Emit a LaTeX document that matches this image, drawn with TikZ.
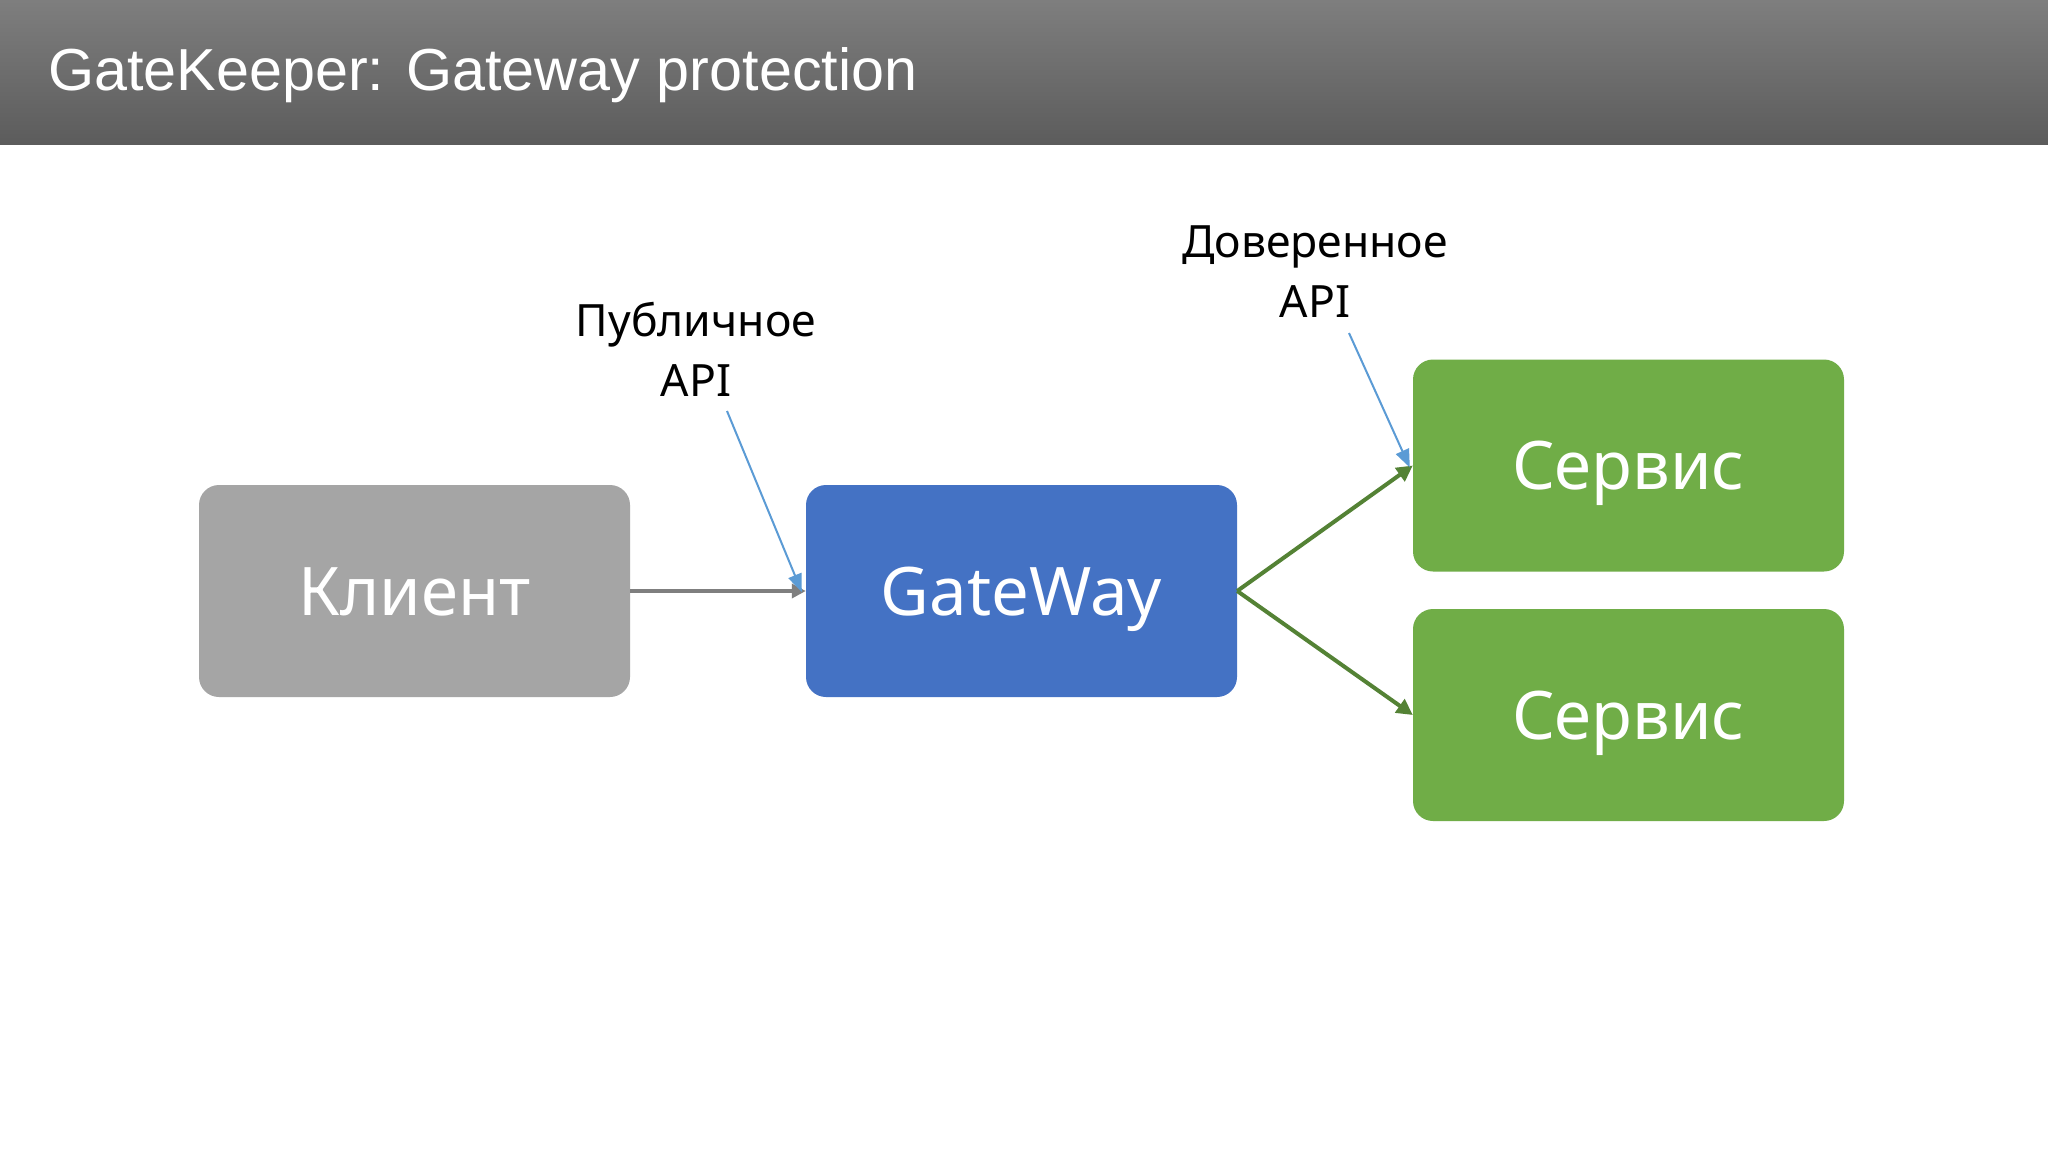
\documentclass[tikz,border=0pt]{standalone}
\usepackage{fontspec}
\setmainfont{Noto Sans}
\newfontfamily\titlefont{Liberation Sans}
\usetikzlibrary{arrows.meta}
\definecolor{hdrtop}{HTML}{7E7E7E}
\definecolor{hdrbot}{HTML}{5C5C5C}
\definecolor{clientc}{HTML}{A5A5A5}
\definecolor{gatec}{HTML}{4472C4}
\definecolor{servc}{HTML}{70AD47}
\definecolor{grayarr}{HTML}{7F7F7F}
\definecolor{greenarr}{HTML}{548235}
\definecolor{bluearr}{HTML}{5B9BD5}
\tikzset{
  box/.style={rounded corners=20pt, minimum width=431pt, minimum height=212pt, inner sep=0pt,
    text=white, font=\fontsize{67}{80}\selectfont, text height=48pt, text depth=0pt},
  lbl/.style={align=center, font=\fontsize{44.5}{60}\selectfont, text=black, inner sep=0pt},
  grayline/.style={draw=grayarr, line width=3.5pt, -{Triangle[length=14pt,width=14pt]}},
  greenline/.style={draw=greenarr, line width=4pt, -{Triangle[length=16pt,width=16pt]}},
  blueline/.style={draw=bluearr, line width=2pt, -{Triangle[length=18pt,width=14pt]}},
}
\begin{document}
\begin{tikzpicture}[x=1pt,y=-1pt]
\useasboundingbox (0,0) rectangle (2048,1152);
\fill[white] (0,0) rectangle (2048,1152);
\shade[top color=hdrtop, bottom color=hdrbot] (0,0) rectangle (2048,144);
\node[anchor=base west, text=white, inner sep=0pt, font=\titlefont\fontsize{59.3}{72}\selectfont] (title) at (48,90) {GateKeeper: Gateway protection};

\node[box, fill=clientc] (client) at (414.5,591) {Клиент};
\node[box, fill=gatec] (gate) at (1021.5,591) {GateWay};
\node[box, fill=servc] (s1) at (1628.5,465.5) {Сервис};
\node[box, fill=servc] (s2) at (1628.5,715) {Сервис};

\node[lbl] (pub) at (696,349) {Публичное\\API};
\node[lbl] (trust) at (1315,272) {Доверенное\\API};
\coordinate (pubstart) at (727,411);
\coordinate (truststart) at (1349,333);

\draw[grayline] (client.east) -- (gate.west);
\draw[greenline] (gate.east) -- (s1.west);
\draw[greenline] (gate.east) -- (s2.west);
\draw[blueline] (pubstart) -- ([xshift=-4pt,yshift=-1pt]gate.west);
\draw[blueline] (truststart) -- ([xshift=-3pt,yshift=-2pt]s1.west);
\end{tikzpicture}
\end{document}
